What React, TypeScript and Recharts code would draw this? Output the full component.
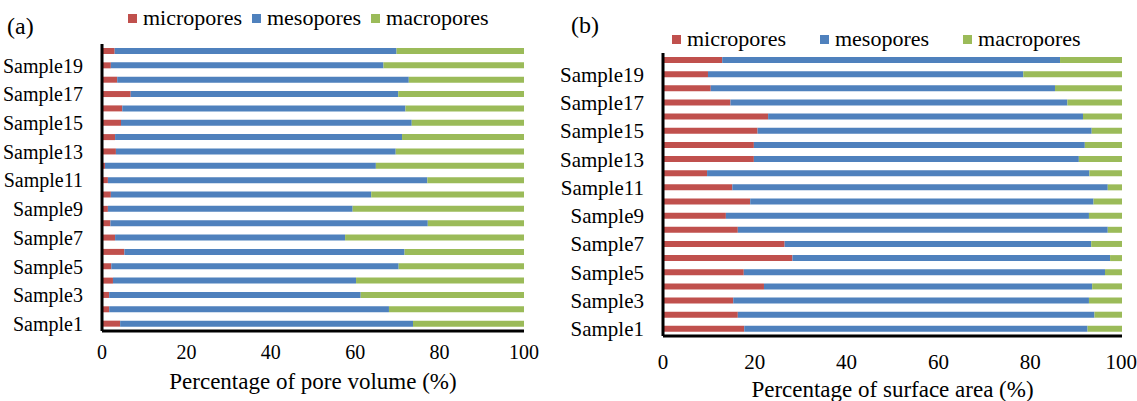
import { Bar, BarChart, Legend, XAxis, YAxis } from "recharts";

const samples = [
  "Sample1", "Sample2", "Sample3", "Sample4", "Sample5", "Sample6", "Sample7",
  "Sample8", "Sample9", "Sample10", "Sample11", "Sample12", "Sample13", "Sample14",
  "Sample15", "Sample16", "Sample17", "Sample18", "Sample19", "Sample20",
];
const seriesNames = ["micropores", "mesopores", "macropores"];

// (a) percentage of pore volume
const volMicro = [4.3, 1.7, 1.7, 2.6, 2.2, 5.3, 3.1, 2.0, 1.4, 2.1, 1.4, 0.7, 3.3, 3.1, 4.5, 4.8, 6.8, 3.6, 2.1, 3.0];
const volMeso = [69.4, 66.3, 59.6, 57.6, 68.1, 66.4, 54.5, 75.2, 58.0, 61.7, 75.7, 64.2, 66.3, 68.0, 68.9, 67.1, 63.4, 69.1, 64.6, 66.8];
const volMacro = [26.3, 32.0, 38.7, 39.8, 29.7, 28.3, 42.4, 22.8, 40.6, 36.2, 22.9, 35.1, 30.4, 28.9, 26.6, 28.1, 29.8, 27.3, 33.3, 30.2];

// (b) percentage of surface area
const areaMicro = [17.7, 16.3, 15.3, 22.0, 17.6, 28.2, 26.5, 16.3, 13.7, 19.0, 15.1, 9.6, 19.8, 19.8, 20.6, 22.9, 14.7, 10.4, 9.8, 12.9];
const areaMeso = [74.8, 77.7, 77.5, 71.5, 78.7, 69.2, 66.8, 80.6, 79.1, 74.8, 81.8, 83.3, 70.8, 72.1, 72.8, 68.6, 73.4, 75.0, 68.7, 73.6];
const areaMacro = [7.5, 6.0, 7.2, 6.5, 3.7, 2.6, 6.7, 3.1, 7.2, 6.2, 3.1, 7.1, 9.4, 8.1, 6.6, 8.5, 11.9, 14.6, 21.5, 13.5];

const xTicks = [0, 20, 40, 60, 80, 100];
const innerXTicks = [20, 40, 60, 80];
const innerYTicks = [1, 2, 3, 4, 5, 6, 7, 8, 9, 10, 11, 12, 13, 14, 15, 16, 17, 18, 19];

const FONT = "Liberation Serif, Times New Roman, DejaVu Serif, serif";
const RED = "#C0504D";
const BLUE = "#4F81BD";
const GREEN = "#9BBB59";

const volData = samples.map((name, i) => ({
  name,
  micropores: volMicro[i],
  mesopores: volMeso[i],
  macropores: volMacro[i],
}));

const areaData = samples.map((name, i) => ({
  name,
  micropores: areaMicro[i],
  mesopores: areaMeso[i],
  macropores: areaMacro[i],
}));

function LegendBox({ payload, gap }: { payload?: any[]; gap: number }) {
  const items = [...(payload || [])].sort((a, b) => seriesNames.indexOf(a.value) - seriesNames.indexOf(b.value));
  return (
    <div style={{ display: "flex", alignItems: "center", fontFamily: FONT, fontSize: 22, color: "#000", whiteSpace: "nowrap", lineHeight: "26px" }}>
      {items.map((p) => (
        <span key={p.value} style={{ display: "flex", alignItems: "center", marginRight: gap }}>
          <span style={{ width: 9, height: 9, background: p.color, marginRight: 6, display: "inline-block" }} />
          {p.value}
        </span>
      ))}
    </div>
  );
}

type PanelProps = {
  data: any[];
  width: number;
  top: number;
  right: number;
  axisHeight: number;
  tickMargin: number;
  tickFont: number;
  title: string;
  titleOffset: number;
  legendLeft: number;
  legendTop: number;
  legendGap: number;
};

function Panel(p: PanelProps) {
  const tickStyle = { fontFamily: FONT, fontSize: p.tickFont, fill: "#000" };
  const frame = { stroke: "#000", strokeWidth: 3 };
  return (
    <BarChart
      width={p.width}
      height={401}
      data={p.data}
      layout="vertical"
      margin={{ top: p.top, right: p.right, bottom: 0, left: 0 }}
      barSize={6}
      style={{ fontFamily: FONT }}
    >
      <XAxis
        xAxisId="val"
        type="number"
        domain={[0, 100]}
        ticks={xTicks}
        tickLine={false}
        tickSize={0}
        tickMargin={p.tickMargin}
        tick={tickStyle}
        axisLine={frame}
        height={p.axisHeight}
        label={{ value: p.title, position: "insideBottom", offset: p.titleOffset, style: { fontFamily: FONT, fontSize: 23, fill: "#000" } }}
      />
      <XAxis
        xAxisId="inner"
        type="number"
        domain={[0, 100]}
        ticks={innerXTicks}
        mirror
        height={0}
        tick={false}
        axisLine={false}
        tickSize={5}
        tickLine={{ stroke: "#000", strokeWidth: 3 }}
      />
      <XAxis xAxisId="top" orientation="top" type="number" domain={[0, 100]} height={0} tick={false} tickLine={false} axisLine={frame} />
      <YAxis
        yAxisId="cat"
        type="category"
        dataKey="name"
        reversed
        interval={1}
        width={102}
        tickLine={false}
        tickSize={0}
        tickMargin={19}
        tick={tickStyle}
        axisLine={frame}
      />
      <YAxis
        yAxisId="inner"
        type="number"
        domain={[0, 20]}
        ticks={innerYTicks}
        mirror
        width={0}
        tick={false}
        axisLine={false}
        tickSize={5}
        tickLine={{ stroke: "#000", strokeWidth: 2 }}
      />
      <YAxis yAxisId="right" orientation="right" type="number" domain={[0, 20]} width={0} tick={false} tickLine={false} axisLine={frame} />
      <Legend
        layout="horizontal"
        verticalAlign="middle"
        align="center"
        wrapperStyle={{ left: p.legendLeft, top: p.legendTop, width: "auto" }}
        content={(props: any) => <LegendBox payload={props.payload} gap={p.legendGap} />}
      />
      <Bar dataKey="micropores" name="micropores" stackId="s" fill={RED} xAxisId="val" yAxisId="cat" isAnimationActive={false} />
      <Bar dataKey="mesopores" name="mesopores" stackId="s" fill={BLUE} xAxisId="val" yAxisId="cat" isAnimationActive={false} />
      <Bar dataKey="macropores" name="macropores" stackId="s" fill={GREEN} xAxisId="val" yAxisId="cat" isAnimationActive={false} />
    </BarChart>
  );
}

export default function App() {
  const letter = { position: "absolute" as const, fontFamily: FONT, fontSize: 24, lineHeight: "24px", color: "#000" };
  return (
    <div style={{ position: "absolute", left: 0, top: 0, width: 1137, height: 401, background: "#fff", overflow: "hidden", fontFamily: FONT }}>
      <div style={{ position: "absolute", left: 0, top: 0 }}>
        <Panel
          data={volData}
          width={561}
          top={44}
          right={37}
          axisHeight={70}
          tickMargin={14}
          tickFont={20}
          title="Percentage of pore volume (%)"
          titleOffset={12}
          legendLeft={128}
          legendTop={5}
          legendGap={10}
        />
      </div>
      <div style={{ position: "absolute", left: 561, top: 0 }}>
        <Panel
          data={areaData}
          width={576}
          top={53}
          right={15}
          axisHeight={65}
          tickMargin={18}
          tickFont={21}
          title="Percentage of surface area (%)"
          titleOffset={4}
          legendLeft={111}
          legendTop={26}
          legendGap={34}
        />
      </div>
      <div style={{ ...letter, left: 7, top: 14 }}>(a)</div>
      <div style={{ ...letter, left: 571, top: 13 }}>(b)</div>
    </div>
  );
}
